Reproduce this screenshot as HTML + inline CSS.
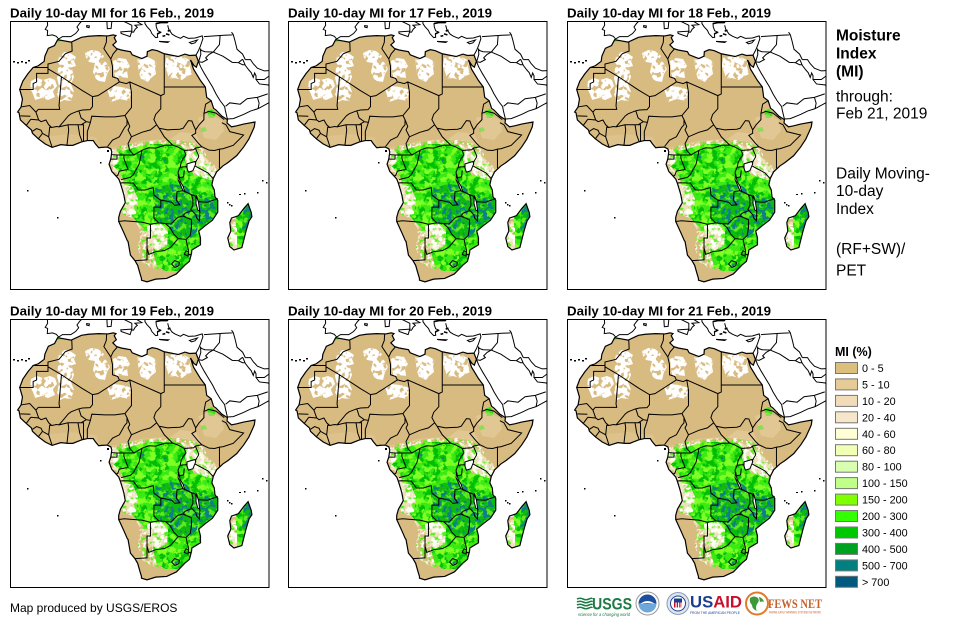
<!DOCTYPE html>
<html><head><meta charset="utf-8">
<style>html,body{margin:0;padding:0;background:#fff;overflow:hidden}svg{display:block}</style>
</head><body>
<svg xmlns="http://www.w3.org/2000/svg" width="967" height="626" viewBox="0 0 967 626" font-family="'Liberation Sans', Arial, sans-serif">
<defs>
<clipPath id="pc"><rect x="10.5" y="21.5" width="258.5" height="268"/></clipPath>
<clipPath id="ac"><path transform="matrix(3.45 0 0 -3.43 78 162.5)" d="M-5.9 35.8L-2 35.1 1 36.5 3 36.8 6 37 8.6 36.9 10.2 37.2 11 37 10.5 36.4 11.1 35.2 10.1 34.3 11.2 33.2 12.5 32.8 15.2 32.3 15.7 31.4 18.5 30.3 20 31 20.1 32.3 21.5 32.9 23 32.6 25 31.7 29 30.9 31 31.6 32.3 31.2 34.2 31.3 34.9 29.5 34.3 27.8 33.6 28.3 32.6 29.9 33.5 27.2 35.5 23.9 36.9 22 37.3 19 38.6 18 39.3 15.8 40 15.3 41.7 13.5 43.3 12.5 43.2 11.5 44.5 10.4 46 10.7 48 11.2 51.3 11.8 51.1 10.4 50.5 9 49.5 6.8 48 4.5 46 2 43.5 0 42 -1 40.2 -2.7 39.2 -4.7 38.8 -6.5 39.5 -8 39.7 -10 40.5 -11 40.5 -14.5 39 -16.8 36.8 -18.5 35 -20 35.5 -22 35.5 -24 33 -25.5 32.9 -26.5 32.3 -28.8 31 -29.9 28.5 -32.5 25.7 -33.8 22.5 -34 20 -34.8 18.4 -34.3 18.4 -33.8 18 -32.5 17.3 -30 16.5 -28.6 15.2 -27 14.5 -23 14.3 -22.8 13.3 -20.5 11.8 -17.2 11.8 -16 12.3 -14.2 13.7 -11.7 13.3 -9.5 13 -8.4 12.3 -6.1 11.8 -4.8 9.8 -2.6 9 -0.5 9.5 1 9.8 3.1 9.5 4 8.5 4.5 6.9 4.4 6 4.3 5 5.5 4.4 6.4 2.7 6.4 1 6 -1.5 5 -2.9 5 -5 5.2 -7.5 4.4 -9.5 5.4 -11.5 6.9 -13.2 8.5 -13.5 9.5 -15 10.8 -16.7 12.4 -17.1 14.5 -17.5 14.7 -16.5 16.2 -16.1 18.5 -16.9 21.3 -16 23.7 -14.5 25.9 -13 27.7 -11.5 28.2 -9.8 29.5 -9.6 31 -8.6 33.3 -6.8 34.1ZM49.3 -12L50.2 -14.5 50.4 -15.8 49.6 -17 48.7 -20 47.5 -24.8 45.2 -25.5 44 -24.5 43.4 -22 44.3 -20 44 -17.5 44.5 -16.2 46.5 -15.5 48 -13.5Z"/></clipPath>
<clipPath id="sah"><polygon points="31,81 37,78 43,80 50,78 55,80 57,86 53,91 55,97 48,100 42,98 35,100 33,94 30,88"/><polygon points="58,68 63,65 67,67 72,69 74,77 71,84 74,92 71,101 64,100 60,102 57,94 59,86 57,78"/><polygon points="59,56 64,52 70,53 76,57 74,61 76,66 69,68 64,70 60,66 58,62"/><polygon points="85,53 91,50 98,51 104,56 101,61 102,65 95,63 89,62 86,58"/><polygon points="95,63 102,61 106,62 110,69 107,74 105,82 99,81 96,79 93,72"/><polygon points="107,89 113,86 122,87 132,90 130,96 129,101 120,99 111,102 109,95"/><polygon points="113,61 119,58 126,59 130,66 127,70 128,78 121,77 116,79 114,72"/><polygon points="137,59 144,56 150,58 157,62 155,68 156,74 151,78 148,82 141,79 139,73"/><polygon points="166,58 173,56 184,57 191,61 190,67 192,74 186,77 182,80 175,78 169,79 167,72 165,66"/></clipPath>
<clipPath id="cr"><polygon points="104,150 120,146 140,142 160,140 183,140 196,144 204,150 208,160 222,172 242,195 242,290 100,290 100,160"/></clipPath>
<clipPath id="gr"><polygon points="108,157 118,152 130,149 140,146 152,144 165,144 180,145 186,150 185,160 188,168 194,175 205,178 216,182 222,195 222,210 215,222 207,230 202,245 195,258 187,266 177,271 166,271 157,266 153,252 155,240 148,232 140,225 132,216 127,205 126,192 124,180 118,170 112,165"/><polygon points="236,198 262,198 262,255 236,255"/></clipPath>
<clipPath id="sub"><polygon points="147,226 160,223 168,232 167,246 156,251 148,241"/><polygon points="186,152 200,151 208,161 215,172 211,180 200,177 192,171 187,163"/><polygon points="122,184 133,187 138,199 136,214 128,215 124,202"/><polygon points="226,225 237,228 237,250 226,250"/><polygon points="108,150 118,150 120,160 114,166 108,162"/></clipPath>
<clipPath id="dk"><polygon points="155,188 170,184 185,186 198,195 212,198 220,202 219,214 208,222 198,226 196,236 188,240 178,236 168,228 160,222 156,210 153,198"/><polygon points="244,205 252,203 252,225 246,235 242,230"/></clipPath>
<filter id="fDark" filterUnits="userSpaceOnUse" x="10" y="20" width="262" height="272" color-interpolation-filters="sRGB"><feTurbulence type="fractalNoise" baseFrequency="0.13" numOctaves="3" seed="3"/><feColorMatrix type="matrix" values="0 0 0 0 0  0 0 0 0 0.74  0 0 0 0 0.02  10 0 0 0 -4.75"/></filter>
<filter id="fLight" filterUnits="userSpaceOnUse" x="10" y="20" width="262" height="272" color-interpolation-filters="sRGB"><feTurbulence type="fractalNoise" baseFrequency="0.16" numOctaves="3" seed="11"/><feColorMatrix type="matrix" values="0 0 0 0 0.5  0 0 0 0 1  0 0 0 0 0.15  10 0 0 0 -5.1"/></filter>
<filter id="fWhite" filterUnits="userSpaceOnUse" x="10" y="20" width="262" height="272" color-interpolation-filters="sRGB"><feTurbulence type="fractalNoise" baseFrequency="0.2" numOctaves="3" seed="7"/><feColorMatrix type="matrix" values="0 0 0 0 1  0 0 0 0 1  0 0 0 0 0.97  9 0 0 0 -4.2"/></filter>
<filter id="fTeal" filterUnits="userSpaceOnUse" x="10" y="20" width="262" height="272" color-interpolation-filters="sRGB"><feTurbulence type="fractalNoise" baseFrequency="0.2" numOctaves="2" seed="5"/><feColorMatrix type="matrix" values="0 0 0 0 0.05  0 0 0 0 0.5  0 0 0 0 0.52  12 0 0 0 -6.4"/></filter>
<filter id="fGr" filterUnits="userSpaceOnUse" x="10" y="20" width="262" height="272" color-interpolation-filters="sRGB"><feTurbulence type="fractalNoise" baseFrequency="0.18" numOctaves="3" seed="13"/><feColorMatrix type="matrix" values="0 0 0 0 0.35  0 0 0 0 0.93  0 0 0 0 0.1  10 0 0 0 -5"/></filter>
<filter id="fTan" filterUnits="userSpaceOnUse" x="10" y="20" width="262" height="272" color-interpolation-filters="sRGB"><feTurbulence type="fractalNoise" baseFrequency="0.3" numOctaves="2" seed="9"/><feColorMatrix type="matrix" values="0 0 0 0 0.85  0 0 0 0 0.73  0 0 0 0 0.5  10 0 0 0 -4.8"/></filter>
<filter id="fTanS" filterUnits="userSpaceOnUse" x="10" y="20" width="262" height="272" color-interpolation-filters="sRGB"><feTurbulence type="fractalNoise" baseFrequency="0.22" numOctaves="2" seed="21"/><feColorMatrix type="matrix" values="0 0 0 0 0.85  0 0 0 0 0.73  0 0 0 0 0.5  10 0 0 0 -5.4"/></filter>

<g id="map">
<g clip-path="url(#pc)">
<g clip-path="url(#ac)">
<rect x="0" y="0" width="280" height="300" fill="#d8bb80"/>
<g clip-path="url(#sah)"><rect x="20" y="40" width="180" height="70" fill="#fff"/><rect x="10" y="20" width="262" height="272" filter="url(#fTanS)"/></g>
<g fill="#3fe015">
<polygon points="54,37 60,34 65,36 63,41 56,42"/>
<polygon points="78,34 90,32 105,32 113,32 114,34 108,36 95,35 83,37 78,36"/>
<polygon points="147,46 152,45 156,46 154,48 148,48"/>
<polygon points="207,111 212,109 216,113 214,118 209,118"/>
<polygon points="201,128 205,127 207,131 202,132"/>
</g>
<g fill="#ecd7ae" opacity="0.45">
<polygon points="168,141 180,132 196,134 202,146 196,153 181,151"/>
<polygon points="198,118 210,114 222,120 224,131 216,140 204,138"/>
<polygon points="42,137 70,134 96,137 100,146 70,146 48,144" opacity="0.6"/>
<polygon points="118,147 140,141 165,139 172,142 150,146"/>
</g>
<g clip-path="url(#cr)">
<rect x="100" y="138" width="145" height="155" fill="#f1e0be"/>
<rect x="10" y="20" width="262" height="272" filter="url(#fWhite)"/>
<rect x="10" y="20" width="262" height="272" filter="url(#fGr)"/>
<rect x="10" y="20" width="262" height="272" filter="url(#fTan)"/>
</g>
<polygon points="108,210 122,214 134,219 140,230 138,248 142,262 152,268 166,271 180,272 195,276 200,295 100,295" fill="#d8bb80"/>
<g clip-path="url(#gr)">
<rect x="100" y="140" width="165" height="140" fill="#3aea12"/>
<rect x="10" y="20" width="262" height="272" filter="url(#fDark)"/>
<rect x="10" y="20" width="262" height="272" filter="url(#fLight)"/>
</g>
<g clip-path="url(#sub)">
<rect x="100" y="140" width="165" height="140" fill="#f0e0c0"/>
<rect x="10" y="20" width="262" height="272" filter="url(#fGr)"/>
<rect x="10" y="20" width="262" height="272" filter="url(#fWhite)"/>
</g>
<g clip-path="url(#dk)">
<rect x="140" y="180" width="125" height="65" fill="#0fba0f"/>
<rect x="10" y="20" width="262" height="272" filter="url(#fLight)" opacity="0.7"/>
<rect x="10" y="20" width="262" height="272" filter="url(#fTeal)"/>
</g>
<g fill="#1b7f88">
<circle cx="176" cy="197" r="2"/><circle cx="180" cy="204" r="2.4"/><circle cx="172" cy="210" r="1.5"/>
<circle cx="249" cy="210" r="2"/><circle cx="250" cy="216" r="1.5"/><circle cx="176" cy="265" r="1.5"/>
<circle cx="143" cy="157" r="1.5"/><circle cx="186" cy="190" r="1.4"/><circle cx="165" cy="160" r="1.2"/>
</g>
</g>
<g transform="matrix(3.45 0 0 -3.43 78 162.5)" fill="none" stroke="#000">
<path vector-effect="non-scaling-stroke" stroke-width="1.2" d="M-5.9 35.8L-2 35.1 1 36.5 3 36.8 6 37 8.6 36.9 10.2 37.2 11 37 10.5 36.4 11.1 35.2 10.1 34.3 11.2 33.2 12.5 32.8 15.2 32.3 15.7 31.4 18.5 30.3 20 31 20.1 32.3 21.5 32.9 23 32.6 25 31.7 29 30.9 31 31.6 32.3 31.2 34.2 31.3 34.9 29.5 34.3 27.8 33.6 28.3 32.6 29.9 33.5 27.2 35.5 23.9 36.9 22 37.3 19 38.6 18 39.3 15.8 40 15.3 41.7 13.5 43.3 12.5 43.2 11.5 44.5 10.4 46 10.7 48 11.2 51.3 11.8 51.1 10.4 50.5 9 49.5 6.8 48 4.5 46 2 43.5 0 42 -1 40.2 -2.7 39.2 -4.7 38.8 -6.5 39.5 -8 39.7 -10 40.5 -11 40.5 -14.5 39 -16.8 36.8 -18.5 35 -20 35.5 -22 35.5 -24 33 -25.5 32.9 -26.5 32.3 -28.8 31 -29.9 28.5 -32.5 25.7 -33.8 22.5 -34 20 -34.8 18.4 -34.3 18.4 -33.8 18 -32.5 17.3 -30 16.5 -28.6 15.2 -27 14.5 -23 14.3 -22.8 13.3 -20.5 11.8 -17.2 11.8 -16 12.3 -14.2 13.7 -11.7 13.3 -9.5 13 -8.4 12.3 -6.1 11.8 -4.8 9.8 -2.6 9 -0.5 9.5 1 9.8 3.1 9.5 4 8.5 4.5 6.9 4.4 6 4.3 5 5.5 4.4 6.4 2.7 6.4 1 6 -1.5 5 -2.9 5 -5 5.2 -7.5 4.4 -9.5 5.4 -11.5 6.9 -13.2 8.5 -13.5 9.5 -15 10.8 -16.7 12.4 -17.1 14.5 -17.5 14.7 -16.5 16.2 -16.1 18.5 -16.9 21.3 -16 23.7 -14.5 25.9 -13 27.7 -11.5 28.2 -9.8 29.5 -9.6 31 -8.6 33.3 -6.8 34.1ZM49.3 -12L50.2 -14.5 50.4 -15.8 49.6 -17 48.7 -20 47.5 -24.8 45.2 -25.5 44 -24.5 43.4 -22 44.3 -20 44 -17.5 44.5 -16.2 46.5 -15.5 48 -13.5Z"/>
<path vector-effect="non-scaling-stroke" stroke-width="1" d="M-1.8 35L-1.7 32.5 -3.7 31.7 -5.5 29.5 -8.7 28.7 -8.7 27.3M-8.7 27.7L-13.1 27.7M-8.7 27.3L-8.7 26 -12 26 -12 23.5 -13 23 -13 21.3 -17 21.3M-8.7 27.3L-4.8 25 -5.5 16.5 -5.3 15.5 -11.5 15.5 -12.2 14.7 -14 16.6 -16.5 16.2M-4.8 25L1.2 21 4.2 19.2 5.8 19.5 12 23.5 11.5 24.5 10 25 10 28 9.5 30.2 7.5 33.2 8.2 35 8.3 36.9M9.5 30.2L10.2 31.7 11.5 33.2M12 23.5L14 23 15 23.5 24 19.5M25 31.7L25 20 24 19.5M25 22L36.9 22M-12.2 14.7L-11.4 12.4 -10.7 11.9 -9.3 12.4 -8.5 11 -7.6 10.2 -6.2 10.5 -5.5 10.4 -4.3 11.8 -2.8 13.6 -2 14.2 0 15 1.3 15.3 3.5 15.4 4.2 16.3 4.2 19.2M3.6 11.7L2.4 11.9 0.9 13 0.3 14.9 0 15M3.6 11.7L4 13.5 7.8 13.3 10.7 13.3 13.6 13.7 15.5 16 15.5 20.5 15 23.5M24 19.5L24 15.7 22.5 14 22 12.5 22.8 11 21 9.5 18.5 8.8 15.5 7.5 14.5 9.5 15 10.5 14.2 12.5 13.6 13.7M14.2 12.5L14.2 11 13.5 10.2 12 7.5 10 6.5 8.6 4.7M2.7 6.4L2.7 9 3.6 11.7M1.6 6.2L1.6 11 0.9 11M1.2 6.1L0.5 8 0 11M-3.2 5L-2.7 9.5 -2.9 11M-5.5 10.4L-2.9 11 0 11 0.9 11 2.4 11.9M-7.5 4.4L-8.5 7.5 -8.2 10.3 -7.6 10.2M-11.5 6.9L-10.3 8.5 -8.5 7.5M-13.2 9.1L-12 9.9 -10.7 9.4 -10.3 8.5M-13.7 12.6L-11.4 12.4M-15 10.8L-13.7 12.6M-16.7 13.6L-13.8 13.5M15.5 7.5L14.5 5.5 15 3.5 16.2 2.2 13.3 2.2 11.3 2.2 9.8 2.3M11.3 2.2L11.3 1 9.4 1M13.3 2.2L13.3 1.2 14.5 -2 12 -2.5 11.5 -3.8 11.1 -3.9M18.6 3.6L17.7 -0.5 16 -3.6 15.2 -4.3 12.5 -5M16.2 2.2L18.6 3.6 20.5 4.3 22.5 4.2 25 5 27.4 5.1M22.8 11L23.5 10 25 7.5 27.4 5.1M23.5 10L26 9.5 27 9.6 29.5 9.7 30.5 10 32 12.2 33 12.1 33.6 10.6 34.1 9.5 34.1 8.5 33 7.9 35 5.5 35.9 4.6M27.4 5.1L29 4.5 30.8 3.5 33.5 3.7 34 4.2 35.9 4.6M34.1 9.5L35.1 11 36.5 12.5 36.5 14.3 37 17 38.6 18M36.5 14.3L37.9 14.9 40 14.4 42.4 12.5M41.7 11.6L42.9 11M42.9 11L44 9 48 8 45 5 42 4 41 3.9M35.9 4.6L38 3.6 39.6 3.5 41 3.9 41 -1.7M33.9 -1L37.6 -3 39.2 -4.7M34 0L34.9 1.5 35 1.9 34 4.2M29.6 -1.4L29.9 0 30.5 1.2 31.3 2.2 30.8 3.5M29.6 -1.4L33.9 -1M29.6 -1.4L29 -2.8 29.2 -4.5 30.6 -4.2 30.8 -2.3M29.2 -4.5L29.5 -6 30.5 -8.2 32.9 -9.4 33.9 -9.7 34.6 -11.4 37.5 -11.6 40.5 -10.5M30.5 -8.2L28.7 -8.5 28.5 -11 29.5 -12.3 28 -12.5 27.2 -11.6 25.3 -11.2 24 -11 22 -9.5 21.8 -7.3 19.5 -8 17.5 -8 16 -6 13 -5.9 12.2 -6M24 -11L24 -13 22 -13 22 -16.2 23.4 -17.6M11.8 -17.2L13.5 -17 18.5 -17.4 21 -18 23.4 -17.6 25.3 -17.8 27 -17.9 28.9 -16 30.4 -15.6M32.9 -9.4L33.3 -10.8 33.3 -12.5 32.7 -13.7 33 -14 31 -14.8 30.4 -15.6M34.6 -11.4L34.7 -12.5 35.3 -14.3 35.2 -17 34.4 -16.2 34.2 -15.3 33 -14M30.4 -15.6L32.9 -16.7 32.9 -19 32.5 -21.3 31.3 -22.4 32 -25.5 32 -26.8 32.9 -26.8M31.3 -25.7L32 -26.2 31.9 -27.3 30.8 -26.8 31.3 -25.7M25.3 -17.8L26.7 -19 27.7 -20.8 29 -22.2 31.3 -22.4M21 -18L21 -22 20 -22 20 -24.8 20.5 -26.8 22.5 -26 25 -25.7 26.9 -24.7 29 -22.2M20 -24.8L20 -28.4 16.5 -28.6M27.1 -29.6L28 -28.6 29.4 -29.1 29.2 -30.1 28.1 -30.6 27.1 -29.6Z"/>
<path vector-effect="non-scaling-stroke" stroke-width="1" fill="#fff" d="M31.6 -0.4L33.9 0.3 34.1 -0.4 33.8 -1.2 33.3 -2.4 32 -2.8 31.6 -1.6ZM34.3 -9.6L34.9 -11.5 35.3 -14.3 34.7 -13.8 34.2 -11.9ZM29.2 -3.4L29.6 -5.6 30.5 -7 30.9 -8.5 30.4 -8.2 29.7 -6.5 29 -5Z"/>
<path vector-effect="non-scaling-stroke" stroke-width="1" d="M-9.9 43L-8.9 41.5 -8.8 40 -9.5 38.8 -8.8 38.5 -8.9 37 -7.4 37.2 -6.3 36.8 -5.6 36 -4.5 36.7 -2.1 36.7 -0.7 37.6 0.2 38.7 -0.3 39.5 0.5 40.6 1 41.1 3.2 41.9 3.2 43M2.5 39.9L3.3 39.8 3.2 39.3 2.5 39.5ZM8.4 41.2L9.8 41.1 9.6 39.1 8.5 39 8.4 40.5ZM12.4 38.1L15.6 38.3 15.1 36.7 12.5 37.6ZM11 42.5L12.5 41.5 14 40.8 15.6 40 15.6 38 16.1 38 16.6 38.9 17.2 39.4 16.5 40 18.5 40.2 16.9 41.2 16 41.9 16 43M19.4 42L19.4 40.5 20 39.6 21 38.5 21.4 37.6 22.5 36.4 23.1 36.5 23 37.5 24 38 23.1 38.4 22.7 39.5 22.6 40.5 24 40.8 26 40.8 26.2 41.5M23.5 35.3L26.3 35.2 26 35 24 35.2ZM26 40L26.3 38.8 27.3 37.4 28.3 36.8 29.7 36.2 30.6 36.8 32 36.2 34 36.3 36 36.9 36.2 36.1 35.9 35.2 35.5 34 35 32.8 34.2 31.3M32.3 35L34.6 35.7 33.9 34.9 32.9 34.6ZM34.9 29.5L35.5 28 36.6 26 37.5 24.5 39 22 40 20 41.2 18 42.5 16.3 42.7 15.2 43.3 12.7 45 12.8 48 14 50 15 52.2 15.7 55.5 17.5M47.7 30.1L48 29.5 48.5 28.3 49.5 27 50.2 26.2 50.8 24.8 51.2 26.1 51.6 25.3 51.6 24.2 52.5 24.2 54 24.2 55.5 25.3M48.5 30L50 30 50.8 28.8 52 27.5 54 26.7 55.5 26.8M48.5 30L47.7 31.6 46.1 33 45.5 35.5 45 37.3 44.5 38M35.5 33.2L35.7 32.7 36.8 32.3 39.2 32.2 38 31.5 37 30.5 37.5 30 36 29.2 34.95 29.4M39.2 32.2L41 34.4 41.2 37.1M36.5 36.7L42.3 37.1 44.8 37.2M39.2 32.2L42 31 44.7 29.2 46.5 29.1 47.7 28.5 48.4 28.5M46.5 29.1L47.7 30.1M35.5 33.2L35.6 31.5 35 29.5M42.8 16.4L44 17.4 47 17 49 18.6 52 19 55 20M51.6 24.2L52.6 22.9 55.2 22.6 55.5 22M52.2 15.7L52.5 17.3 52 19"/>
<path vector-effect="non-scaling-stroke" stroke-width="1.6" d="M22.6 40.5L24 40.8 26 40.8M23 37.5L24 38M25.5 37.5L26.5 37.2M24.5 36.8L25.3 37M26 38.3L26.8 38.6"/>
</g>
<g fill="#000">
<rect x="13" y="61" width="2" height="1.5"/><rect x="17" y="62" width="2" height="1.5"/><rect x="21" y="61" width="2" height="1.5"/><rect x="25" y="62" width="2" height="1.5"/><rect x="28" y="60" width="2" height="1.5"/>
<rect x="100" y="162" width="1.5" height="1.5"/><rect x="107" y="150" width="2" height="2"/><rect x="27" y="190" width="1.5" height="1.5"/><rect x="57" y="217" width="1.5" height="1.5"/>
<rect x="239" y="194" width="2" height="1"/><rect x="244" y="193" width="1.5" height="1.5"/><rect x="257" y="192" width="1.5" height="1.5"/>
<rect x="227" y="202" width="1.5" height="1.5"/><rect x="229" y="204" width="1.5" height="1.5"/><rect x="231" y="205" width="1.5" height="1.5"/>
<rect x="262" y="180" width="1.5" height="1.5"/><rect x="266" y="182" width="1.5" height="1.5"/>
</g>
</g>
</g>
</defs>

<rect width="967" height="626" fill="#fff"/>
<use href="#map"/>
<use href="#map" x="278"/>
<use href="#map" x="557"/>
<use href="#map" y="298"/>
<use href="#map" x="278" y="298"/>
<use href="#map" x="557" y="298"/>
<g fill="#1b7f88"><circle cx="738" cy="505" r="1.6"/><circle cx="733" cy="512" r="1.3"/></g>

<g fill="none" stroke="#000" stroke-width="1">
<rect x="10.5" y="21.5" width="258.5" height="268"/>
<rect x="288.5" y="21.5" width="258.5" height="268"/>
<rect x="567.5" y="21.5" width="258.5" height="268"/>
<rect x="10.5" y="319.5" width="258.5" height="268"/>
<rect x="288.5" y="319.5" width="258.5" height="268"/>
<rect x="567.5" y="319.5" width="258.5" height="268"/>
</g>

<g font-weight="bold" font-size="13.3" fill="#000">
<text x="10" y="17.3">Daily 10-day MI for 16 Feb., 2019</text>
<text x="288" y="17.3">Daily 10-day MI for 17 Feb., 2019</text>
<text x="567" y="17.3">Daily 10-day MI for 18 Feb., 2019</text>
<text x="10" y="315.3">Daily 10-day MI for 19 Feb., 2019</text>
<text x="288" y="315.3">Daily 10-day MI for 20 Feb., 2019</text>
<text x="567" y="315.3">Daily 10-day MI for 21 Feb., 2019</text>
</g>

<g font-size="15.5" fill="#000">
<text x="836" y="40.5" font-weight="bold">Moisture</text>
<text x="836" y="58.3" font-weight="bold">Index</text>
<text x="836" y="76.3" font-weight="bold">(MI)</text>
<text x="836" y="101.5">through:</text>
<text x="836" y="118.3">Feb 21, 2019</text>
<text x="836" y="178.3">Daily Moving-</text>
<text x="836" y="196">10-day</text>
<text x="836" y="214">Index</text>
<text x="836" y="254">(RF+SW)/</text>
<text x="836" y="275.7">PET</text>
</g>

<text x="835" y="356" font-weight="bold" font-size="12.5" fill="#000">MI (%)</text>
<g stroke="#777" stroke-width="1">
<rect x="835.5" y="362.5" width="22" height="11" fill="#dcbf7c"/>
<rect x="835.5" y="378.9" width="22" height="11" fill="#e7cb97"/>
<rect x="835.5" y="395.4" width="22" height="11" fill="#f1dbb8"/>
<rect x="835.5" y="411.8" width="22" height="11" fill="#f6e6cc"/>
<rect x="835.5" y="428.3" width="22" height="11" fill="#ffffd6"/>
<rect x="835.5" y="444.7" width="22" height="11" fill="#f0ffb4"/>
<rect x="835.5" y="461.2" width="22" height="11" fill="#d8ffb0"/>
<rect x="835.5" y="477.6" width="22" height="11" fill="#c0ff88"/>
<rect x="835.5" y="494.1" width="22" height="11" fill="#80ff00"/>
<rect x="835.5" y="510.5" width="22" height="11" fill="#33ff00"/>
<rect x="835.5" y="527" width="22" height="11" fill="#00c800"/>
<rect x="835.5" y="543.4" width="22" height="11" fill="#00a020"/>
<rect x="835.5" y="559.9" width="22" height="11" fill="#008080"/>
<rect x="835.5" y="576.3" width="22" height="11" fill="#005a80"/>
</g>
<g font-size="10.8" fill="#000">
<text x="862" y="372">0 - 5</text>
<text x="862" y="388.4">5 - 10</text>
<text x="862" y="404.9">10 - 20</text>
<text x="862" y="421.3">20 - 40</text>
<text x="862" y="437.8">40 - 60</text>
<text x="862" y="454.2">60 - 80</text>
<text x="862" y="470.7">80 - 100</text>
<text x="862" y="487.1">100 - 150</text>
<text x="862" y="503.6">150 - 200</text>
<text x="862" y="520">200 - 300</text>
<text x="862" y="536.5">300 - 400</text>
<text x="862" y="552.9">400 - 500</text>
<text x="862" y="569.4">500 - 700</text>
<text x="862" y="585.8">&gt; 700</text>
</g>

<text x="10" y="612" font-size="12" fill="#000">Map produced by USGS/EROS</text>

<g>
<g stroke="#1e7b45" stroke-width="1.6" fill="none">
<path d="M577 599 q3 -1.5 6 0 t6 0 t3 0"/><path d="M577 602 q3 -1.5 6 0 t6 0 t3 0"/><path d="M577 605 q3 -1.5 6 0 t6 0 t3 0"/><path d="M577 608 q3 -1.5 6 0 t6 0 t3 0"/>
</g>
<text x="592" y="609.5" font-weight="bold" font-size="17" fill="#1e7b45" textLength="40" lengthAdjust="spacingAndGlyphs">USGS</text>
<text x="578" y="616" font-style="italic" font-size="4.5" fill="#1e7b45" textLength="52" lengthAdjust="spacingAndGlyphs">science for a changing world</text>

<circle cx="647.5" cy="603.5" r="11.5" fill="#fff" stroke="#999" stroke-width="1"/>
<path d="M638.5 603.5 a9 9 0 0 1 18 0z" fill="#1d4f9c"/>
<path d="M638.5 603.5 a9 9 0 0 0 18 0z" fill="#6ea8da"/>
<path d="M640 604 q7.5 -6 15 0 q-7.5 -2 -15 0z" fill="#fff"/>

<circle cx="678" cy="603.5" r="11" fill="#dfe5ef" stroke="#8a9bb5" stroke-width="1"/>
<circle cx="678" cy="603.5" r="7.5" fill="#fff" stroke="#1b3f8f" stroke-width="1"/>
<rect x="674" y="598.5" width="8" height="4" fill="#1b3f8f"/>
<rect x="674" y="602.5" width="8" height="5" fill="#c8102e"/>
<rect x="675.5" y="602.5" width="1.2" height="5" fill="#fff"/><rect x="678" y="602.5" width="1.2" height="5" fill="#fff"/><rect x="680.5" y="602.5" width="1.2" height="5" fill="#fff"/>
<text x="690" y="607.5" font-weight="bold" font-size="16.5" textLength="52" lengthAdjust="spacingAndGlyphs"><tspan fill="#1b3f8f">US</tspan><tspan fill="#c8102e">AID</tspan></text>
<text x="690" y="614" font-size="3.8" fill="#1b3f8f" textLength="50" lengthAdjust="spacingAndGlyphs">FROM THE AMERICAN PEOPLE</text>

<circle cx="757" cy="603.5" r="11" fill="#fff" stroke="#e07a2a" stroke-width="2"/>
<path d="M750 598 q4 -3 8 0 q2 3 -1 6 q-2 4 0 7 q-5 -2 -5 -6 q-3 -3 -2 -7z" fill="#3d9a3a"/>
<path d="M759 597 q4 1 5 5 q-2 -1 -4 0z" fill="#3d9a3a"/>
<text x="768" y="608" font-family="'Liberation Serif', serif" font-weight="bold" font-size="13" fill="#c4622d" textLength="54" lengthAdjust="spacingAndGlyphs">FEWS NET</text>
<text x="769" y="613.5" font-size="3.3" fill="#c4622d" textLength="52" lengthAdjust="spacingAndGlyphs">FAMINE EARLY WARNING SYSTEMS NETWORK</text>
</g>
</svg>
</body></html>
